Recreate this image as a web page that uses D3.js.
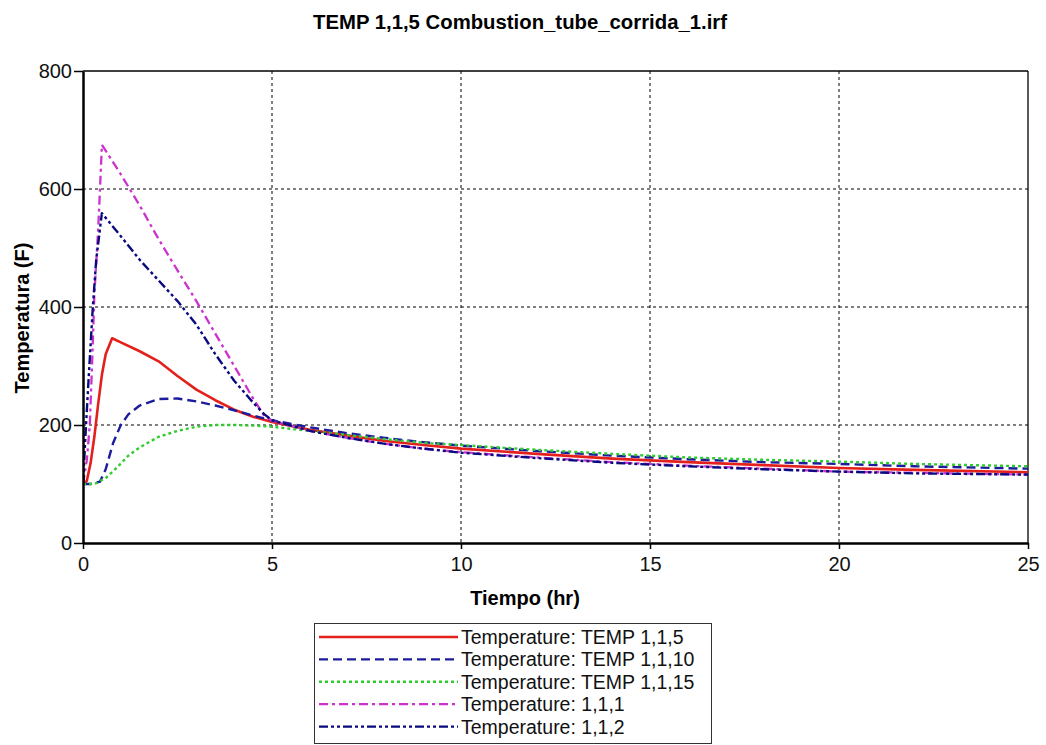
<!DOCTYPE html>
<html>
<head>
<meta charset="utf-8">
<script src="https://cdn.jsdelivr.net/npm/d3@7"></script>
<style>
  body { margin: 0; background: #fff; }
  text { font-family: "Liberation Sans", Arial, sans-serif; }
</style>
</head>
<body>
<svg id="chart" width="1046" height="745"></svg>
<script>
// ---- Data ----
const title = "TEMP 1,1,5 Combustion_tube_corrida_1.irf";
const xLabel = "Tiempo (hr)";
const yLabel = "Temperatura (F)";
const xTicks = [0, 5, 10, 15, 20, 25];
const yTicks = [0, 200, 400, 600, 800];

const seriesNames = [
  "Temperature: TEMP 1,1,5",
  "Temperature: TEMP 1,1,10",
  "Temperature: TEMP 1,1,15",
  "Temperature: 1,1,1",
  "Temperature: 1,1,2"
];

const t115 = [0, 0.1, 0.2, 0.3, 0.4, 0.5, 0.6, 0.77, 1.0, 1.5, 2.0, 2.5, 3.0, 3.5, 4.0, 4.5, 5.0, 6, 7, 8, 9, 10, 12, 14, 16, 18, 20, 22, 25];
const v115 = [100, 105, 135, 180, 235, 285, 320, 347, 340, 325, 308, 283, 260, 242, 226, 214, 205, 192, 182, 173, 166, 160, 151, 143, 137, 132, 127, 124, 120];

const t1110 = [0, 0.2, 0.45, 0.6, 0.8, 1.0, 1.2, 1.5, 2.0, 2.5, 3.0, 3.5, 4.0, 4.5, 5.0, 6, 7, 8, 9, 10, 12, 14, 16, 18, 20, 22, 25];
const v1110 = [100, 100, 104, 125, 170, 200, 218, 233, 244, 245, 240, 233, 225, 216, 208, 196, 186, 178, 171, 165, 156, 148, 142, 137, 134, 130, 126];

const t1115 = [0, 0.3, 0.6, 0.9, 1.2, 1.5, 2.0, 2.5, 3.0, 3.5, 4.0, 4.5, 5.0, 6, 7, 8, 9, 10, 12, 14, 16, 18, 20, 22, 25];
const v1115 = [100, 100, 110, 128, 148, 162, 180, 190, 197, 200, 200, 199, 197, 190, 183, 176, 170, 166, 158, 151, 145, 141, 138, 134, 130];

const t111 = [0, 0.1, 0.18, 0.25, 0.3, 0.4, 0.45, 0.5, 1.0, 1.5, 2.0, 2.5, 3.0, 3.5, 4.0, 4.5, 4.8, 5.0, 6, 7, 8, 9, 10, 12, 14, 16, 18, 20, 22, 25];
const v111 = [100, 140, 200, 320, 420, 530, 600, 675, 625, 572, 515, 462, 410, 355, 300, 245, 215, 207, 190, 178, 168, 160, 154, 145, 137, 131, 126, 121, 119, 116];

const t112 = [0, 0.08, 0.15, 0.26, 0.35, 0.5, 1.0, 1.5, 2.0, 2.5, 3.0, 3.5, 4.0, 4.5, 4.8, 5.0, 6, 7, 8, 9, 10, 12, 14, 16, 18, 20, 22, 25];
const v112 = [100, 200, 280, 400, 480, 559, 520, 480, 445, 410, 370, 320, 275, 238, 218, 208, 190, 178, 168, 160, 153, 144, 136, 130, 125, 121, 118, 116];

const seriesT = [t115, t1110, t1115, t111, t112];
const seriesV = [v115, v1110, v1115, v111, v112];

// ---- Styles ----
const colors = ["#e3201b", "#1c1c9c", "#2fcc2f", "#cc33cc", "#0a0a80"];
const dashes = ["none", "9,5", "3,3", "9,4,3,4", "9,3,3,3,3,3"];
const widths = [2.6, 2.4, 2.4, 2.3, 2.4];

const svg = d3.select("#chart");
const L = 83, R = 1028, T = 71, B = 543;

const x = d3.scaleLinear().domain([0, 25]).range([L, R]);
const y = d3.scaleLinear().domain([0, 800]).range([B, T]);

// Title
svg.append("text").attr("x", 520).attr("y", 29).attr("text-anchor", "middle")
  .attr("font-size", 19.5).attr("font-weight", "bold")
  .attr("textLength", 414).attr("lengthAdjust", "spacingAndGlyphs").text(title);

// Grid
const grid = svg.append("g");
grid.selectAll(".gx").data(xTicks.filter(d => d > 0 && d < 25)).enter().append("line")
  .attr("x1", d => x(d)).attr("x2", d => x(d)).attr("y1", T).attr("y2", B)
  .attr("stroke", "#000").attr("stroke-width", 1).attr("stroke-dasharray", "3,3");
grid.selectAll(".gy").data(yTicks.filter(d => d > 0 && d < 800)).enter().append("line")
  .attr("x1", L).attr("x2", R).attr("y1", d => y(d)).attr("y2", d => y(d))
  .attr("stroke", "#000").attr("stroke-width", 1).attr("stroke-dasharray", "3,3");

// Frame top/right
svg.append("line").attr("x1", L).attr("x2", R).attr("y1", T).attr("y2", T).attr("stroke", "#000").attr("stroke-width", 1.3);
svg.append("line").attr("x1", R).attr("x2", R).attr("y1", T).attr("y2", B).attr("stroke", "#000").attr("stroke-width", 1.3);

// Lines
svg.append("defs").append("clipPath").attr("id", "clip")
  .append("rect").attr("x", L).attr("y", T).attr("width", R - L).attr("height", B - T);
const lineGen = d3.line().x(d => x(d[0])).y(d => y(d[1]));
const gLines = svg.append("g").attr("clip-path", "url(#clip)");
seriesT.forEach((ts, i) => {
  const pts = ts.map((t, j) => [t, seriesV[i][j]]);
  gLines.append("path").datum(pts).attr("d", lineGen)
    .attr("fill", "none").attr("stroke", colors[i]).attr("stroke-width", widths[i])
    .attr("stroke-dasharray", dashes[i]).attr("stroke-linejoin", "round");
});

// Axes
const xAxis = svg.append("g").attr("transform", `translate(0,${B})`)
  .call(d3.axisBottom(x).tickValues(xTicks).tickSize(6).tickSizeOuter(0).tickPadding(8));
const yAxis = svg.append("g").attr("transform", `translate(${L},0)`)
  .call(d3.axisLeft(y).tickValues(yTicks).tickSize(9).tickSizeOuter(0).tickPadding(2));
[xAxis, yAxis].forEach(a => {
  a.select(".domain").attr("stroke", "#000").attr("stroke-width", 2.5);
  a.selectAll(".tick line").attr("stroke", "#000").attr("stroke-width", 1.5);
  a.selectAll(".tick text").attr("font-size", 20).attr("fill", "#111")
    .attr("font-family", "'Liberation Sans', Arial, sans-serif");
});

// Axis titles
svg.append("text").attr("x", 525).attr("y", 605).attr("text-anchor", "middle")
  .attr("font-size", 20).attr("font-weight", "bold").text(xLabel);
svg.append("text").attr("transform", "translate(29,318) rotate(-90)").attr("text-anchor", "middle")
  .attr("font-size", 20).attr("font-weight", "bold").text(yLabel);

// Legend
const lg = svg.append("g");
lg.append("rect").attr("x", 314.5).attr("y", 623.5).attr("width", 397).attr("height", 120)
  .attr("fill", "#fff").attr("stroke", "#333").attr("stroke-width", 1);
seriesNames.forEach((n, i) => {
  const yy = 637 + i * 22.4;
  lg.append("line").attr("x1", 319).attr("x2", 458).attr("y1", yy).attr("y2", yy)
    .attr("stroke", colors[i]).attr("stroke-width", widths[i]).attr("stroke-dasharray", dashes[i]);
  lg.append("text").attr("x", 461).attr("y", yy + 7).attr("font-size", 19.5).attr("fill", "#111").text(n);
});
</script>
</body>
</html>
